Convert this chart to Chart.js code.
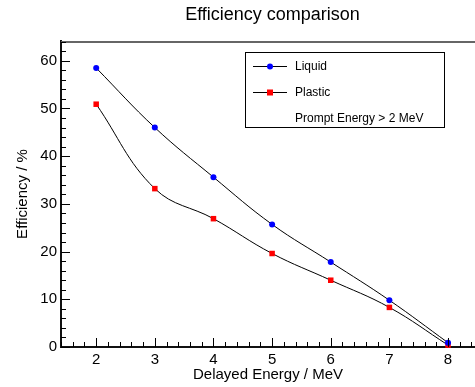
<!DOCTYPE html>
<html>
<head>
<meta charset="utf-8">
<script src="https://cdn.jsdelivr.net/npm/chart.js@4"></script>
<style>
  html, body { margin: 0; padding: 0; background: #fff; }
  #wrap { width: 475px; height: 387px; position: relative; }
</style>
</head>
<body>
<div id="wrap"><canvas id="c" width="475" height="387"></canvas></div>
<script>
// data
const energies = [2, 3, 4, 5, 6, 7, 8];
const liquid  = [58.5, 46.0, 35.6, 25.7, 17.8, 9.8, 0.9];
const plastic = [50.9, 33.2, 26.9, 19.6, 14.0, 8.3, 0.4];
const xTicks = [2, 3, 4, 5, 6, 7, 8];
const yTicks = [0, 10, 20, 30, 40, 50, 60];
const chartTitle = 'Efficiency comparison';
const legendNote = 'Prompt Energy > 2 MeV';

const FONT = '"Liberation Sans", Arial, Helvetica, sans-serif';

const toPoints = ys => energies.map((x, i) => ({ x, y: ys[i] }));

// title sits off-centre in the ROOT canvas, so draw it by hand
const offTitle = {
  id: 'offTitle',
  afterDraw(chart) {
    const { ctx } = chart;
    ctx.save();
    ctx.font = '18px ' + FONT;
    ctx.fillStyle = '#000';
    ctx.textAlign = 'center';
    ctx.textBaseline = 'middle';
    ctx.fillText(chartTitle, 272.5, 15);
    ctx.restore();
  }
};

// inward major/minor ticks + top frame line, ROOT style
const frameTicks = {
  id: 'frameTicks',
  afterDraw(chart) {
    const { ctx, chartArea: a } = chart;
    const xs = chart.scales.x, ys = chart.scales.y;
    ctx.save();
    ctx.strokeStyle = '#666';
    ctx.lineWidth = 2;
    ctx.beginPath();
    ctx.moveTo(a.left, a.top + 1);
    ctx.lineTo(a.right, a.top + 1);
    ctx.stroke();

    ctx.strokeStyle = '#000';
    ctx.lineWidth = 1;
    ctx.beginPath();
    // x ticks, minor every 0.2
    for (let v = 1.4; v <= xs.max + 1e-6; v += 0.2) {
      const major = Math.abs(v - Math.round(v)) < 1e-6;
      const px = Math.round(xs.getPixelForValue(v)) + 0.5;
      ctx.moveTo(px, a.bottom);
      ctx.lineTo(px, a.bottom - (major ? 9 : 5));
    }
    // y ticks, minor every 2
    for (let v = 0; v <= ys.max + 1e-6; v += 2) {
      const major = v % 10 === 0;
      const py = Math.round(ys.getPixelForValue(v)) + 0.5;
      ctx.moveTo(a.left, py);
      ctx.lineTo(a.left + (major ? 9 : 5), py);
    }
    ctx.stroke();
    ctx.restore();
  }
};

// boxed legend like the TLegend in the reference
const boxLegend = {
  id: 'boxLegend',
  afterDraw(chart) {
    const { ctx } = chart;
    const box = { x: 245.5, y: 52.5, w: 199, h: 75 };
    ctx.save();
    ctx.fillStyle = '#fff';
    ctx.fillRect(box.x, box.y, box.w, box.h);
    ctx.strokeStyle = '#000';
    ctx.lineWidth = 1;
    ctx.strokeRect(box.x, box.y, box.w, box.h);
    ctx.font = '12px ' + FONT;
    ctx.textBaseline = 'middle';
    const rows = [66, 92, 118];
    chart.data.datasets.forEach((ds, i) => {
      const y = rows[i];
      ctx.strokeStyle = '#000';
      ctx.beginPath();
      ctx.moveTo(253, y + 0.5);
      ctx.lineTo(287, y + 0.5);
      ctx.stroke();
      ctx.fillStyle = ds.pointBackgroundColor;
      if (ds.pointStyle === 'rect') {
        ctx.fillRect(267, y - 2.5, 6, 6);
      } else {
        ctx.beginPath();
        ctx.arc(270, y + 0.5, 3, 0, Math.PI * 2);
        ctx.fill();
      }
      ctx.fillStyle = '#000';
      ctx.fillText(ds.label, 295, y + 1);
    });
    ctx.fillStyle = '#000';
    ctx.fillText(legendNote, 295, rows[2] + 1);
    ctx.restore();
  }
};

function series(label, ys, color, style, radius) {
  return {
    label,
    data: toPoints(ys),
    borderColor: '#000',
    borderWidth: 1,
    tension: 0.4,
    pointStyle: style,
    pointRadius: radius,
    pointBackgroundColor: color,
    pointBorderColor: color,
    pointBorderWidth: 0,
    pointHoverRadius: radius,
    clip: false
  };
}

new Chart(document.getElementById('c'), {
  type: 'line',
  data: {
    datasets: [
      series('Liquid', liquid, '#0000ff', 'circle', 3),
      series('Plastic', plastic, '#ff0000', 'rect', 3.9)
    ]
  },
  options: {
    responsive: false,
    animation: false,
    layout: { autoPadding: false, padding: { top: 41, left: 0, right: 0, bottom: 0 } },
    plugins: {
      legend: { display: false },
      tooltip: { enabled: false },
      title: { display: false }
    },
    scales: {
      x: {
        type: 'linear',
        min: 1.4,
        max: 8.46,
        afterFit: s => { s.height = 40; s.paddingLeft = 0; s.paddingRight = 0; },
        afterBuildTicks: s => { s.ticks = xTicks.map(v => ({ value: v })); },
        grid: { display: false, drawTicks: false },
        border: { display: true, color: '#111', width: 2 },
        ticks: {
          color: '#000',
          padding: 4,
          maxRotation: 0,
          font: { family: FONT, size: 15 }
        },
        title: {
          display: true,
          text: 'Delayed Energy / MeV',
          color: '#000',
          font: { family: FONT, size: 15, lineHeight: 1.2 },
          padding: { top: 0, bottom: 3.5 }
        }
      },
      y: {
        type: 'linear',
        min: 0,
        max: 64.15,
        afterFit: s => { s.width = 61; s.paddingTop = 0; s.paddingBottom = 0; },
        afterBuildTicks: s => { s.ticks = yTicks.map(v => ({ value: v })); },
        grid: { display: false, drawTicks: false },
        border: { display: true, color: '#111', width: 2 },
        ticks: {
          color: '#000',
          padding: 4,
          font: { family: FONT, size: 15 }
        },
        title: {
          display: true,
          text: 'Efficiency / %',
          color: '#000',
          font: { family: FONT, size: 15, lineHeight: 1.2 },
          padding: { top: 13.5, bottom: 0 }
        }
      }
    }
  },
  plugins: [offTitle, frameTicks, boxLegend]
});
</script>
</body>
</html>
